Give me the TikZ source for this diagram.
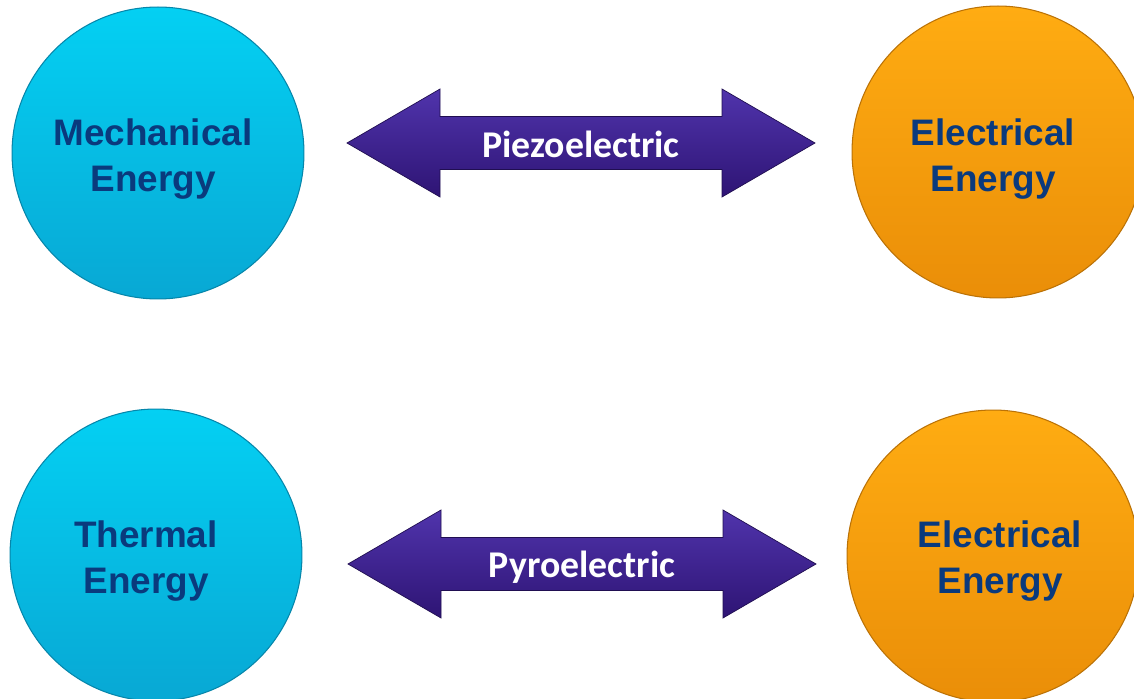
\documentclass[tikz,border=0pt]{standalone}
\usepackage{fontspec}
\setmainfont{Liberation Sans}
\newfontfamily\calibri{Carlito}
\definecolor{cyantop}{RGB}{4,208,243}
\definecolor{cyanbot}{RGB}{8,168,212}
\definecolor{orangetop}{RGB}{255,172,18}
\definecolor{orangebot}{RGB}{234,142,8}
\definecolor{purpletop}{RGB}{80,52,172}
\definecolor{purplebot}{RGB}{46,20,116}
\definecolor{labelblue}{RGB}{10,58,125}

\begin{document}
\begin{tikzpicture}[x=0.02cm, y=-0.02cm,
    energy/.style={circle, minimum size=5.84cm, inner sep=0, line width=0.6pt},
    mech/.style={energy, top color=cyantop, bottom color=cyanbot, draw=cyanbot!80!black},
    elec/.style={energy, top color=orangetop, bottom color=orangebot, draw=orangebot!80!black},
    energytext/.style={align=center, inner sep=0, text=labelblue,
        font=\fontsize{21}{26.6}\selectfont\bfseries},
    effect/.style={top color=purpletop, bottom color=purplebot, draw=purplebot!70!black, line width=0.4pt},
    effecttext/.style={anchor=base, inner sep=0, text=white,
        font=\calibri\fontsize{21.5}{24}\selectfont\bfseries}]
    \useasboundingbox (0,0) rectangle (1134,699);
    % upper row
    \node[mech] (mechanical) at (158,153) {};
    \node[energytext] (mechanicaltext) at ([shift={(-5,6)}]mechanical.center) {Mechanical\\Energy};
    \node[elec] (electrical1) at (998,152) {};
    \node[energytext] (electrical1text) at ([shift={(-5,7)}]electrical1.center) {Electrical\\Energy};
    \coordinate (piezoc) at (581,143);
    \shade[effect] ([shift={(-234,0)}]piezoc) -- ++(93,-54) -- ++(0,27.5) -- ++(282,0) -- ++(0,-27.5)
        -- ++(93,54) -- ++(-93,54) -- ++(0,-27.5) -- ++(-282,0) -- ++(0,27.5) -- cycle;
    \node[effecttext] (piezo) at ([shift={(0,15)}]piezoc) {Piezoelectric};
    % lower row
    \node[mech] (thermal) at (156,555) {};
    \node[energytext] (thermaltext) at ([shift={(-10,6)}]thermal.center) {Thermal\\Energy};
    \node[elec] (electrical2) at (993,556) {};
    \node[energytext] (electrical2text) at ([shift={(7,5)}]electrical2.center) {Electrical\\Energy};
    \coordinate (pyroc) at (582,564);
    \shade[effect] ([shift={(-234,0)}]pyroc) -- ++(93,-54) -- ++(0,27.5) -- ++(282,0) -- ++(0,-27.5)
        -- ++(93,54) -- ++(-93,54) -- ++(0,-27.5) -- ++(-282,0) -- ++(0,27.5) -- cycle;
    \node[effecttext] (pyro) at ([shift={(0,14)}]pyroc) {Pyroelectric};
\end{tikzpicture}
\end{document}
